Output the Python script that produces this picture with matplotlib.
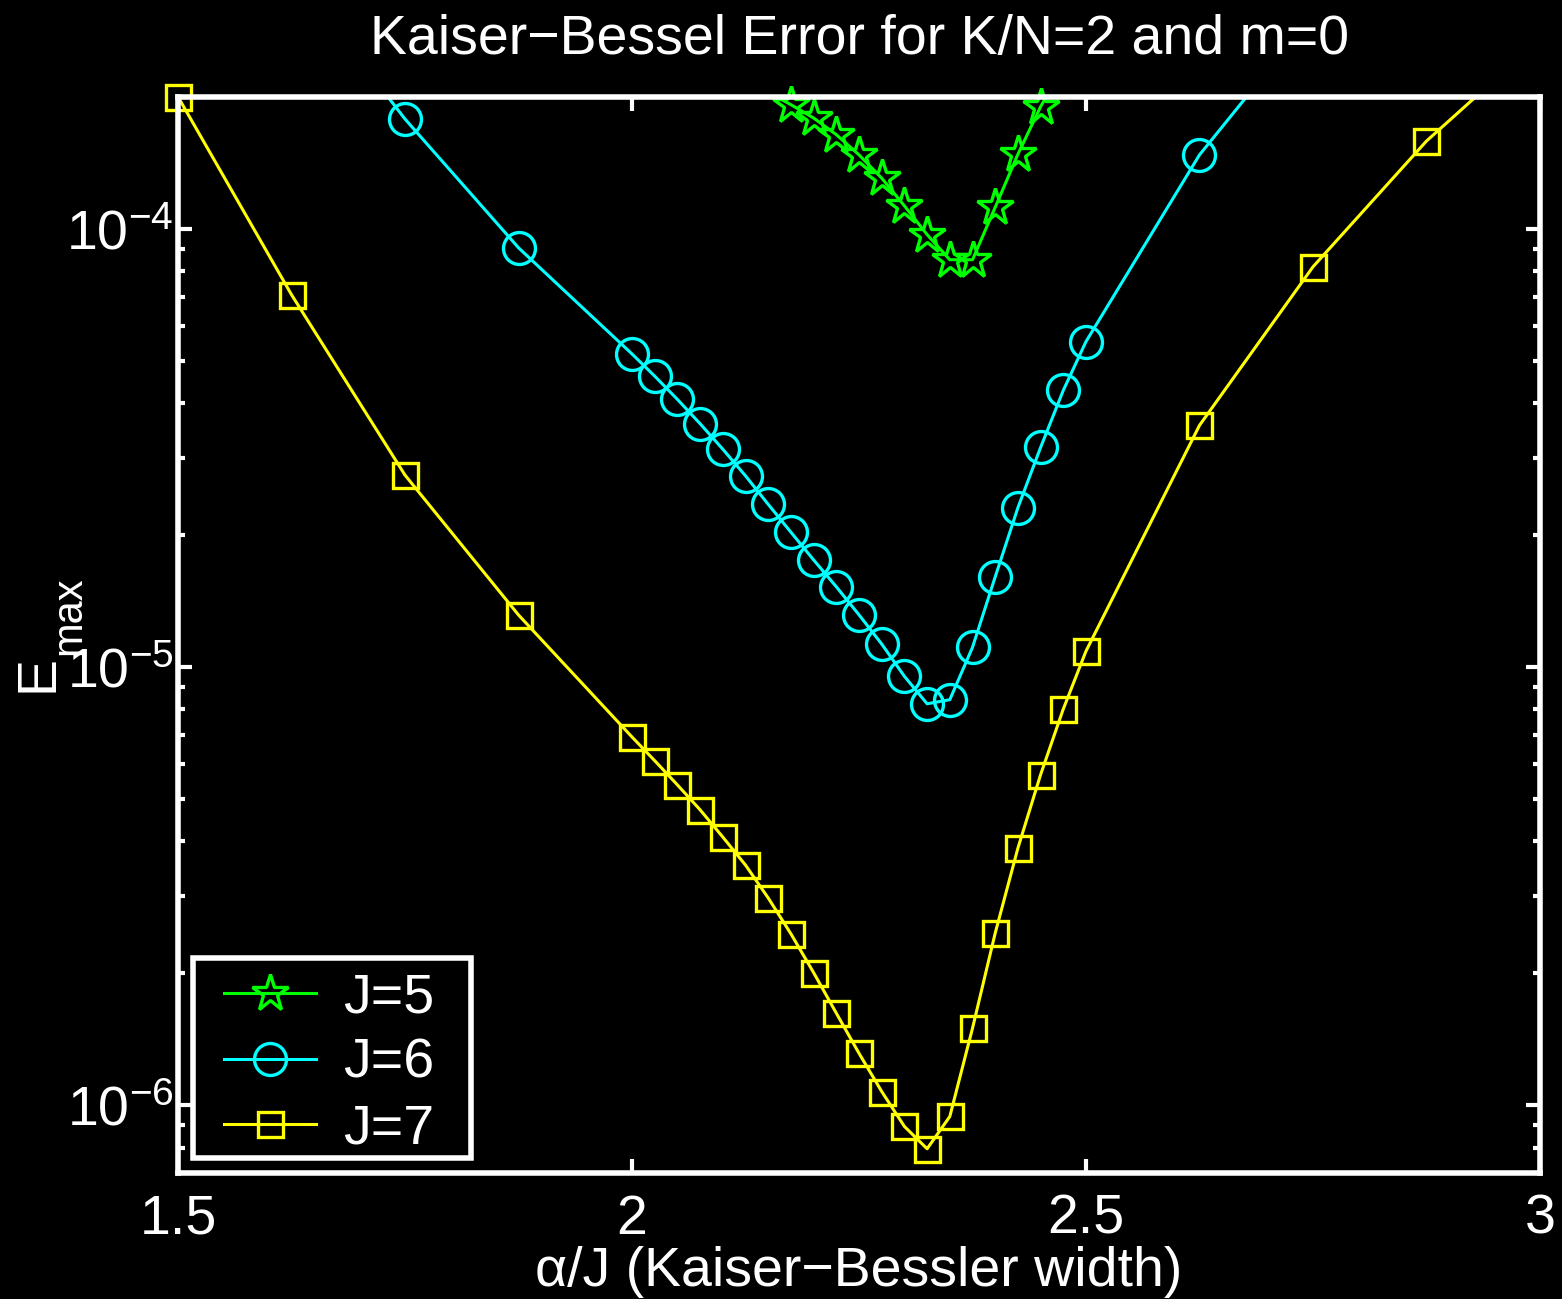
import numpy as np
import matplotlib
matplotlib.use('Agg')
import matplotlib.pyplot as plt
from matplotlib.lines import Line2D
from matplotlib.patches import Rectangle
from matplotlib.ticker import FixedLocator, LogLocator, NullFormatter

plt.rcParams['font.family'] = ['Liberation Sans', 'DejaVu Sans']
plt.rcParams['mathtext.fontset'] = 'custom'
plt.rcParams['mathtext.rm'] = 'Liberation Sans'
plt.rcParams['mathtext.it'] = 'Liberation Sans:italic'
plt.rcParams['mathtext.bf'] = 'Liberation Sans:bold'

# ── data ──
x_j5 = [2.15, 2.175, 2.2, 2.225, 2.25, 2.275, 2.3, 2.325, 2.35, 2.375,
        2.4, 2.425, 2.45, 2.475]
e_j5 = [2.05e-4, 1.92e-4, 1.79e-4, 1.64e-4, 1.475e-4, 1.305e-4, 1.128e-4,
        9.7e-5, 8.5e-5, 8.5e-5, 1.12e-4, 1.48e-4, 1.90e-4, 2.35e-4]

x_j6 = [1.625, 1.75, 1.875, 2.0, 2.025, 2.05, 2.075, 2.1, 2.125, 2.15,
        2.175, 2.2, 2.225, 2.25, 2.275, 2.3, 2.325, 2.35, 2.375, 2.4,
        2.425, 2.45, 2.475, 2.5, 2.625, 2.75]
e_j6 = [3.85e-4, 1.78e-4, 9.05e-5, 5.18e-5, 4.61e-5, 4.08e-5, 3.59e-5,
        3.14e-5, 2.73e-5, 2.35e-5, 2.03e-5, 1.755e-5, 1.524e-5, 1.315e-5,
        1.128e-5, 9.52e-6, 8.24e-6, 8.42e-6, 1.109e-5, 1.606e-5, 2.31e-5,
        3.17e-5, 4.28e-5, 5.53e-5, 1.475e-4, 3.08e-4]

x_j7 = [1.5, 1.625, 1.75, 1.875, 2.0, 2.025, 2.05, 2.075, 2.1, 2.125,
        2.15, 2.175, 2.2, 2.225, 2.25, 2.275, 2.3, 2.325, 2.35, 2.375,
        2.4, 2.425, 2.45, 2.475, 2.5, 2.625, 2.75, 2.875, 3.0]
e_j7 = [2.0e-4, 7.07e-5, 2.74e-5, 1.314e-5, 6.92e-6, 6.11e-6, 5.38e-6,
        4.72e-6, 4.09e-6, 3.53e-6, 2.97e-6, 2.46e-6, 2.006e-6, 1.621e-6,
        1.313e-6, 1.074e-6, 8.94e-7, 7.95e-7, 9.42e-7, 1.498e-6, 2.47e-6,
        3.86e-6, 5.68e-6, 8.02e-6, 1.087e-5, 3.56e-5, 8.19e-5, 1.586e-4,
        2.71e-4]

series = [
    ('J=5', x_j5, e_j5, '#00ff00', '*', 28),
    ('J=6', x_j6, e_j6, '#00ffff', 'o', 23),
    ('J=7', x_j7, e_j7, '#ffff00', 's', 18),
]

x_ticks = [1.5, 2, 2.5, 3]
x_tick_labels = ['1.5', '2', '2.5', '3']
y_lim = (7e-7, 2e-4)

FS = 40
LW = 2.2
MEW = 2.4

fig = plt.figure(figsize=(15.62, 12.99), dpi=100, facecolor='black')
ax = fig.add_axes([0.114, 0.097, 0.8719, 0.8284], facecolor='black')

handles = []
for lab, xs, es, col, mk, ms in series:
    xs = np.asarray(xs)
    es = np.asarray(es)
    # line is clipped by the axes box
    ax.plot(xs, es, '-', color=col, lw=LW)
    # markers inside the y range are drawn unclipped, like the original
    inside = (es >= y_lim[0]) & (es <= y_lim[1] * 1.001)
    ax.plot(xs[inside], es[inside], linestyle='none', marker=mk, ms=ms,
            mfc='none', mec=col, mew=MEW, clip_on=False)
    handles.append(Line2D([], [], color=col, lw=LW, marker=mk, ms=ms,
                          mfc='none', mec=col, mew=MEW, label=lab))

ax.set_yscale('log')
ax.set_xlim(1.5, 3)
ax.set_ylim(*y_lim)
ax.xaxis.set_major_locator(FixedLocator(x_ticks))
ax.set_xticklabels(x_tick_labels)
ax.yaxis.set_major_locator(FixedLocator([1e-6, 1e-5, 1e-4]))
ax.yaxis.set_minor_locator(LogLocator(base=10, subs=np.arange(2, 10)))
ax.yaxis.set_minor_formatter(NullFormatter())

for s in ax.spines.values():
    s.set_color('white')
    s.set_linewidth(4)
ax.tick_params(which='both', direction='in', colors='white',
               top=True, right=True, labelsize=FS)
ax.tick_params(which='major', length=10, width=3)
ax.tick_params(which='minor', length=5, width=3)
ax.tick_params(axis='x', pad=15)
ax.tick_params(axis='y', pad=3)

ax.set_title('Kaiser\u2212Bessel Error for K/N=2 and m=0', color='white',
             fontsize=FS, pad=31)
ax.set_xlabel('\u03b1/J (Kaiser\u2212Bessler width)', color='white',
              fontsize=FS, labelpad=0)

# y label E with "max" subscript
ax.set_ylabel('E', color='white', fontsize=FS)
ax.yaxis.set_label_coords(-0.0837, 0.4638)
ax.text(-0.072, 0.5177, 'max', transform=ax.transAxes, color='white',
        fontsize=30, rotation=90, rotation_mode='anchor', ha='center',
        va='baseline')

# legend with a square white frame
ax.add_patch(Rectangle((0.011, 0.0139), 0.204, 0.186, transform=ax.transAxes,
                       facecolor='black', edgecolor='white', lw=4,
                       zorder=4, clip_on=False))
leg = ax.legend(handles=handles, loc='upper left',
                bbox_to_anchor=(0.0338, 0.1862), borderaxespad=0,
                fontsize=FS, frameon=False, handlelength=1.65,
                handletextpad=0.5, labelspacing=0.24, borderpad=0)
leg.set_zorder(5)
for t in leg.get_texts():
    t.set_color('white')

fig.savefig('out.png', dpi=100, facecolor='black')
